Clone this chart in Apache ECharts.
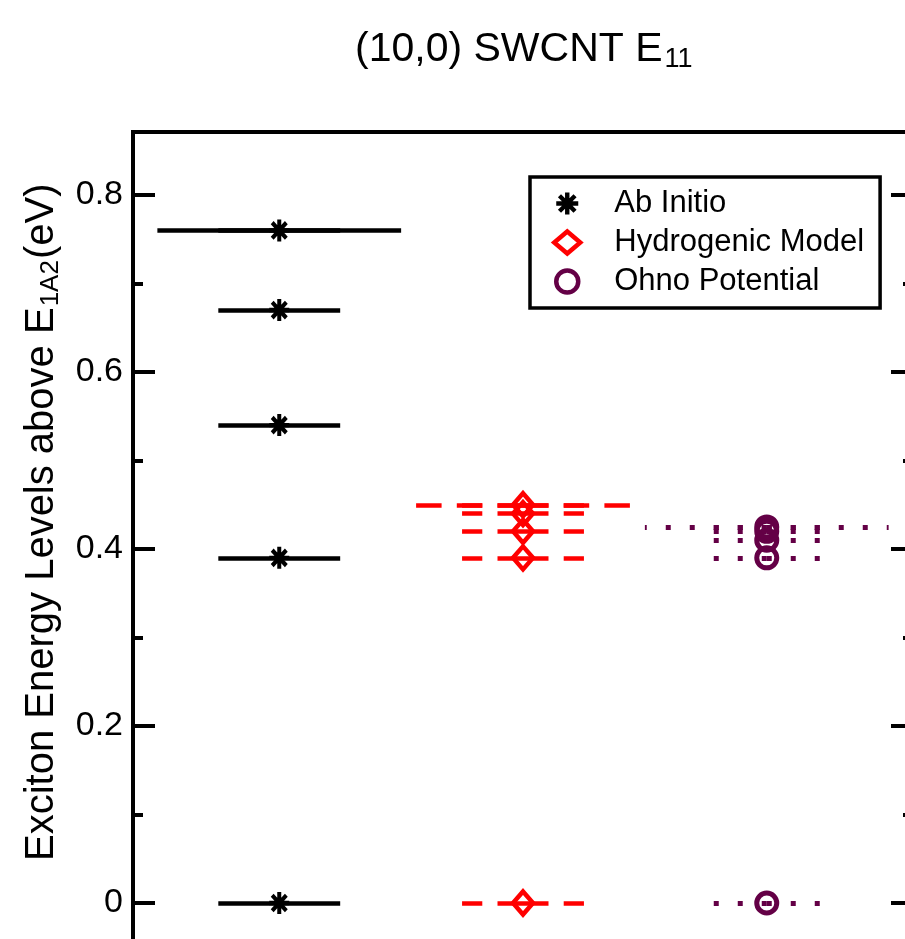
<!DOCTYPE html>
<html>
<head>
<meta charset="utf-8">
<script src="https://cdn.jsdelivr.net/npm/echarts@6/dist/echarts.min.js"></script>
<style>
  html, body { margin: 0; padding: 0; overflow: hidden; background: #fff; }
  #chart { width: 920px; height: 1100px; }
</style>
</head>
<body>
<div id="chart"></div>
<script>
// Exciton level diagram for the (10,0) SWCNT E11 manifold:
// each model gets a column; short bars mark bound levels, the long bar marks the band edge.
const modelNames = ['Ab Initio', 'Hydrogenic Model', 'Ohno Potential'];
const modelColumns = [1, 2, 3];
const abInitioLevels = [0, 0.39, 0.54, 0.67, 0.76];
const hydrogenicLevels = [0, 0.39, 0.42, 0.44, 0.45];
const ohnoLevels = [0, 0.39, 0.41, 0.42, 0.425];
const bandEdges = [0.76, 0.45, 0.425];
const boundHalfWidth = 0.25;
const edgeHalfWidth = 0.5;
const yMajorTicks = [0, 0.2, 0.4, 0.6, 0.8];
const yMinorTicks = [0.1, 0.3, 0.5, 0.7];
const xRange = [0.4, 3.6];
const yRange = [-0.2, 0.8712];

const titleMain = '(10,0) SWCNT E';
const titleSub = '11';
const yNameMain = 'Exciton Energy Levels above E';
const yNameSub = '1A2';
const yNameTail = '(eV)';

const FONT = '"Liberation Sans", Arial, Helvetica, sans-serif';
const colors = ['#000000', '#ff0000', '#640046'];
const dashTypes = ['solid', [25.5, 15.2], [5, 19]];
const levelsByModel = [abInitioLevels, hydrogenicLevels, ohnoLevels];

// eight-armed asterisk built from four rotated bars
function asteriskPath() {
  const R = 10, w = 2.0;
  let d = '';
  [0, 45, 90, 135].forEach(deg => {
    const a = deg * Math.PI / 180;
    const dx = Math.cos(a), dy = Math.sin(a), nx = -dy, ny = dx;
    const pts = [
      [R * dx + w * nx, R * dy + w * ny],
      [R * dx - w * nx, R * dy - w * ny],
      [-R * dx - w * nx, -R * dy - w * ny],
      [-R * dx + w * nx, -R * dy + w * ny]
    ].map(p => p[0].toFixed(3) + ',' + p[1].toFixed(3));
    d += 'M' + pts[0] + 'L' + pts[1] + 'L' + pts[2] + 'L' + pts[3] + 'Z';
  });
  return 'path://' + d;
}
const symbols = [asteriskPath(), 'diamond', 'circle'];
const symbolSizes = [[20, 22], [20, 23], 20];
const markerStyles = [
  { color: colors[0], opacity: 1 },
  { color: 'transparent', borderColor: colors[1], borderWidth: 4.5, opacity: 1 },
  { color: 'transparent', borderColor: colors[2], borderWidth: 5, opacity: 1 }
];

// each bar is drawn as two halves running outward from the column centre
function halves(center, y, hw) {
  return [
    { coords: [[center, y], [center - hw, y]] },
    { coords: [[center, y], [center + hw, y]] }
  ];
}

const series = [];
modelNames.forEach((name, i) => {
  const c = modelColumns[i];
  const segs = halves(c, bandEdges[i], edgeHalfWidth);
  levelsByModel[i].forEach(v => segs.push(...halves(c, v, boundHalfWidth)));
  series.push({
    type: 'lines',
    coordinateSystem: 'cartesian2d',
    name: name + ' bars',
    silent: true,
    z: 2,
    lineStyle: { color: colors[i], width: i === 2 ? 5 : 4.5, type: dashTypes[i], cap: 'butt', opacity: 1, curveness: 0 },
    data: segs
  });
  series.push({
    type: 'scatter',
    name: name,
    silent: true,
    z: 3,
    symbol: symbols[i],
    symbolSize: symbolSizes[i],
    itemStyle: markerStyles[i],
    data: levelsByModel[i].map(v => [c, v])
  });
});

const measure = document.createElement('canvas').getContext('2d');
function textWidth(str, size) {
  measure.font = size + 'px ' + FONT;
  return measure.measureText(str).width;
}
const wTitle = textWidth(titleMain, 41);
const wYMain = textWidth(yNameMain, 40);
const wYSub = textWidth(yNameSub, 26);

const txt = (text, size, x, y) => ({
  type: 'text', x: x, y: y,
  style: { text: text, fontSize: size, fontFamily: FONT, fill: '#000', align: 'left', verticalAlign: 'middle' }
});

const yBase = {
  type: 'value', min: yRange[0], max: yRange[1],
  splitLine: { show: false }, axisLine: { show: false }
};
const tickStyle = { color: '#000', width: 4 };

const chart = echarts.init(document.getElementById('chart'), null, { renderer: 'canvas' });
chart.setOption({
  animation: false,
  backgroundColor: '#fff',
  grid: { left: 133, right: 7, top: 132, bottom: 20, show: true, borderColor: '#000', borderWidth: 4, backgroundColor: 'transparent' },
  xAxis: { type: 'value', min: xRange[0], max: xRange[1], show: false },
  yAxis: [
    Object.assign({}, yBase, {
      position: 'left',
      axisTick: { inside: true, length: 22, lineStyle: tickStyle, customValues: yMajorTicks },
      axisLabel: { customValues: yMajorTicks, fontSize: 34, fontFamily: FONT, color: '#000', margin: 10,
        formatter: v => String(+v.toFixed(1)) }
    }),
    Object.assign({}, yBase, {
      position: 'left',
      axisTick: { inside: true, length: 10, lineStyle: tickStyle, customValues: yMinorTicks },
      axisLabel: { show: false }
    }),
    Object.assign({}, yBase, {
      position: 'right',
      axisTick: { inside: true, length: 22, lineStyle: tickStyle, customValues: yMajorTicks },
      axisLabel: { show: false }
    }),
    Object.assign({}, yBase, {
      position: 'right',
      axisTick: { inside: true, length: 10, lineStyle: tickStyle, customValues: yMinorTicks },
      axisLabel: { show: false }
    })
  ],
  legend: {
    orient: 'vertical',
    left: 530, top: 177,
    padding: [11, 16, 11, 22],
    borderColor: '#000', borderWidth: 3.5, backgroundColor: '#fff',
    itemWidth: 26, itemHeight: 22, itemGap: 8,
    selectedMode: false,
    textStyle: { fontSize: 31, fontFamily: FONT, color: '#000', lineHeight: 30, padding: [0, 0, 0, 29] },
    data: modelNames.map((n, i) => ({
      name: n,
      itemStyle: i === 0
        ? { color: colors[0], borderWidth: 0, opacity: 1 }
        : { color: 'transparent', borderColor: colors[i], borderWidth: 4.5, opacity: 1 }
    }))
  },
  graphic: [
    {
      type: 'group', x: 355, y: 49.3,
      children: [txt(titleMain, 41, 0, 0), txt(titleSub, 27, wTitle + 2, 10)]
    },
    {
      type: 'group', x: 41.6, y: 861, rotation: Math.PI / 2,
      children: [
        txt(yNameMain, 40, 0, 0),
        txt(yNameSub, 26, wYMain + 1, 9),
        txt(yNameTail, 40, wYMain + wYSub + 2, 0)
      ]
    }
  ],
  series: series
});
</script>
</body>
</html>
